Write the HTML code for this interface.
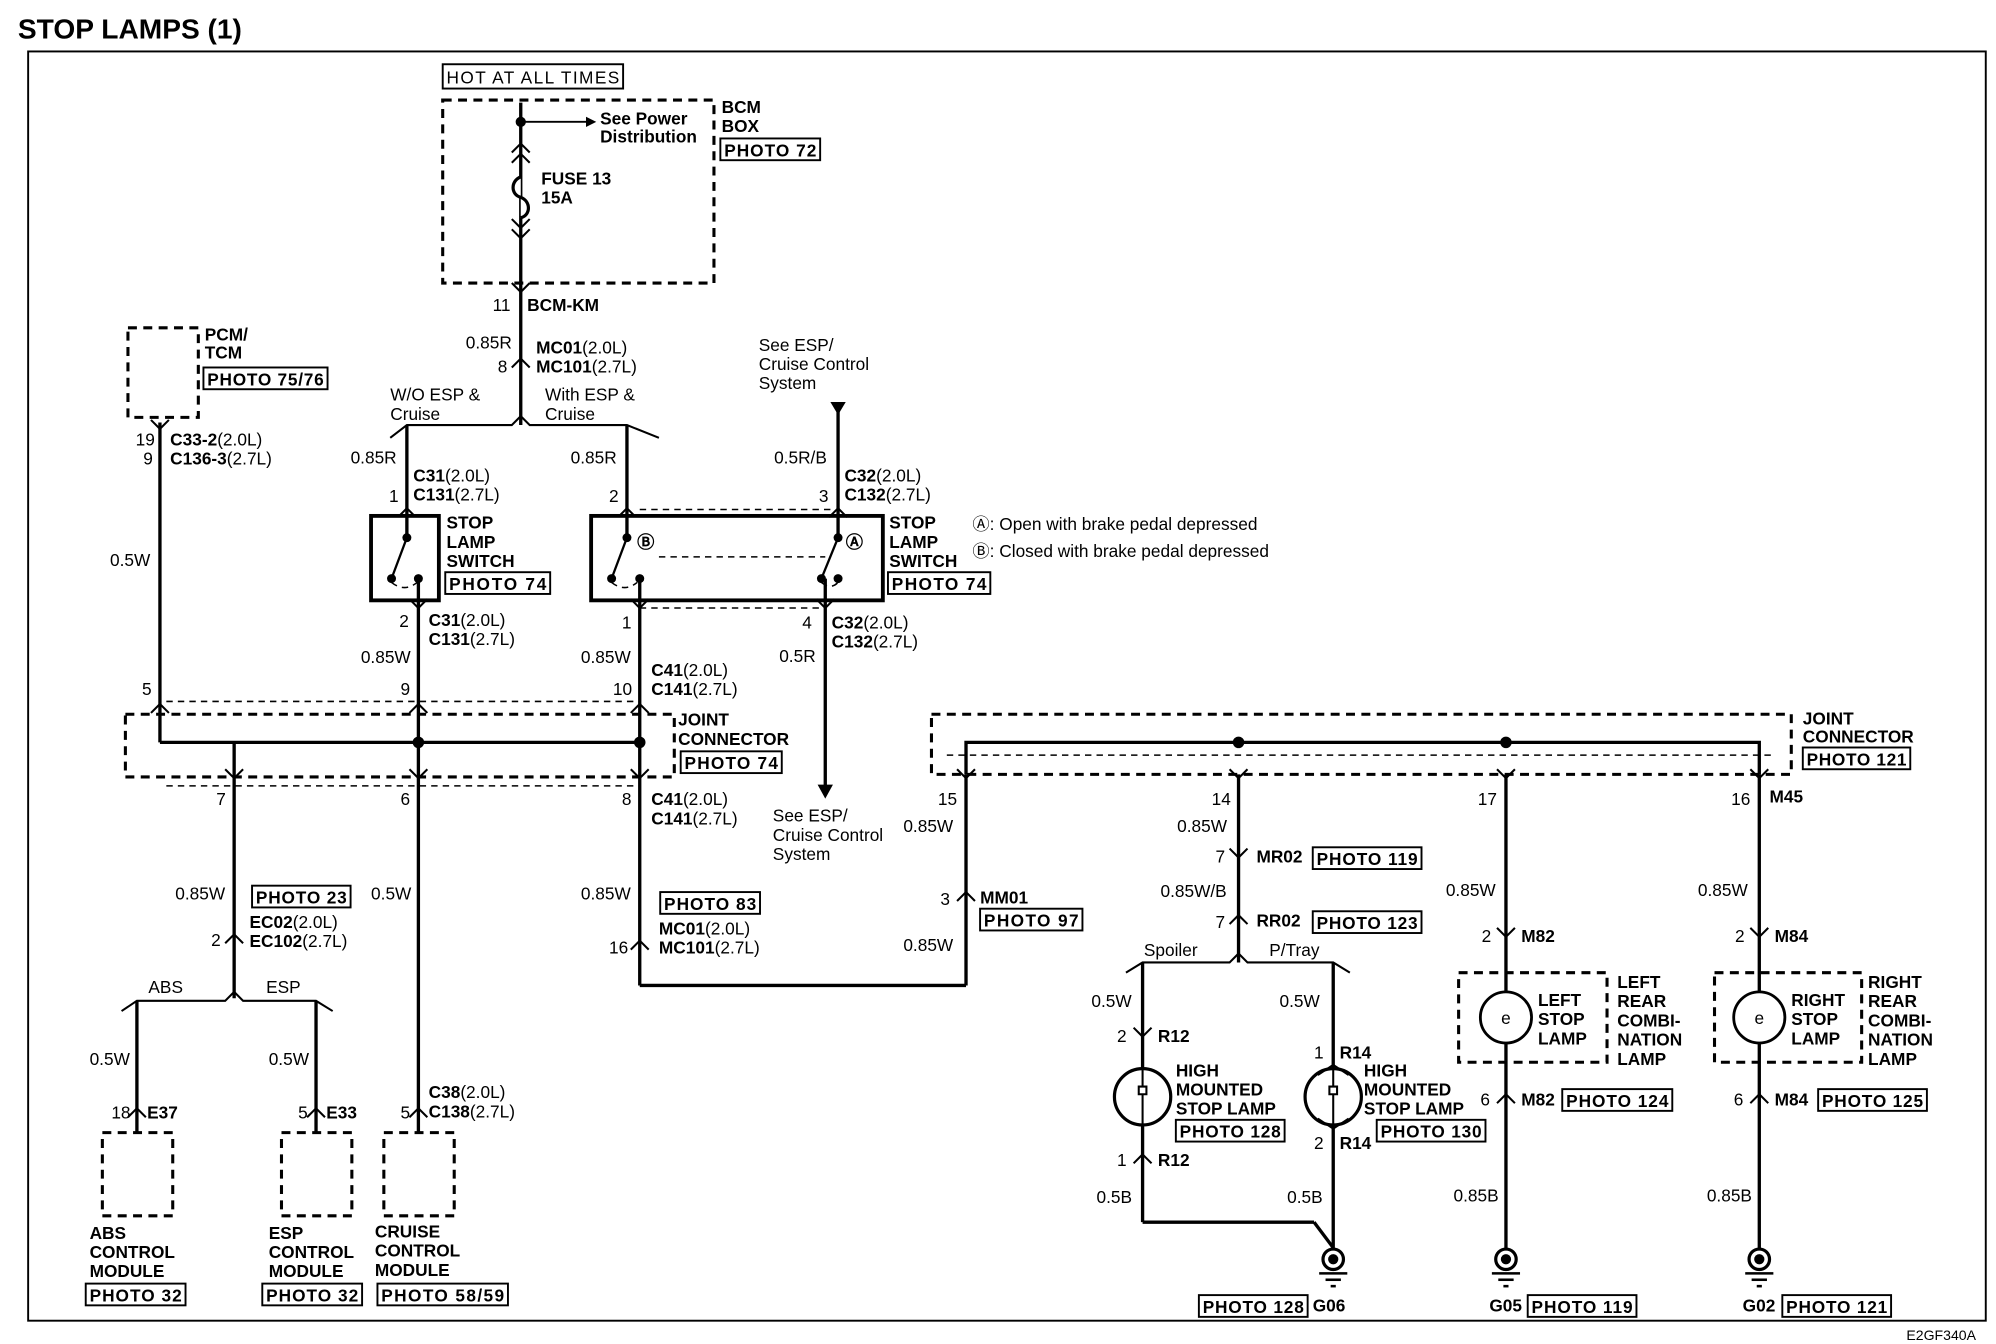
<!DOCTYPE html>
<html><head><meta charset="utf-8"><style>
html,body{margin:0;padding:0;background:#fff}
svg{display:block}
text{font-family:"Liberation Sans",Arial,sans-serif;font-size:13.5px;fill:#000}
.b{font-weight:bold}
.w{stroke:#000;stroke-width:2.6;fill:none}
.t{stroke:#000;stroke-width:1.5;fill:none}
.d{stroke:#000;stroke-width:2.4;fill:none;stroke-dasharray:7,5}
.dt{stroke:#000;stroke-width:1.2;fill:none;stroke-dasharray:5,4}
</style></head><body>
<svg width="1996" height="1344" viewBox="0 0 1560 1050" xmlns="http://www.w3.org/2000/svg">
<defs>
<path id="cu" d="M-7,7 L0,0 L7,7" stroke="#000" stroke-width="1.6" fill="none"/>
<path id="cd" d="M-7,-7 L0,0 L7,-7" stroke="#000" stroke-width="1.6" fill="none"/>
<g id="gnd"><circle r="8" stroke="#000" stroke-width="2.5" fill="#fff"/><circle r="4" fill="#000"/><line x1="-11" y1="11" x2="11" y2="11" stroke="#000" stroke-width="2"/><line x1="-6" y1="16" x2="6" y2="16" stroke="#000" stroke-width="2"/><line x1="-2" y1="21" x2="2" y2="21" stroke="#000" stroke-width="2"/></g>
<g id="bulb"><circle r="22" stroke="#000" stroke-width="2.5" fill="#fff"/><path d="M0,-22 L0,-8 M-3,-8 h6 v6 h-6 z M0,-2 L0,22" stroke="#000" stroke-width="1.6" fill="none"/></g>
</defs>

<text x="14" y="30" class="b" style="font-size:22px">STOP LAMPS (1)</text>
<rect x="22" y="40" width="1530" height="992" class="t"/>
<text x="1490" y="1047" style="font-size:11px">E2GF340A</text>

<!-- BCM -->
<rect x="346" y="50" width="141" height="19" class="t"/>
<text x="349" y="65" textLength="135">HOT AT ALL TIMES</text>
<rect x="346" y="78" width="212" height="143" class="d"/>
<line x1="407" y1="80" x2="407" y2="332" class="w"/>
<circle cx="407" cy="95" r="4"/>
<line x1="407" y1="95" x2="458" y2="95" class="t"/>
<path d="M458,91 L466,95 L458,99 z"/>
<text x="469" y="97" class="b">See Power</text><text x="469" y="111" class="b">Distribution</text>
<use href="#cu" x="407" y="112"/><use href="#cu" x="407" y="120"/>
<path d="M407,138 c-8,3 -8,14 0,16 c8,3 8,14 0,16" stroke="#000" stroke-width="2.5" fill="#fff"/>
<use href="#cd" x="407" y="178"/><use href="#cd" x="407" y="186"/>
<text x="423" y="144" class="b">FUSE 13</text><text x="423" y="159" class="b">15A</text>
<text x="564" y="88" class="b">BCM</text><text x="564" y="103" class="b">BOX</text>
<rect x="563" y="108" width="78" height="17" class="t"/><text x="566" y="122" class="b" textLength="72">PHOTO 72</text>
<use href="#cd" x="407" y="228"/>
<text x="385" y="243">11</text><text x="412" y="243" class="b">BCM-KM</text>
<text x="364" y="272">0.85R</text>
<text x="389" y="291">8</text><use href="#cu" x="407" y="280"/>
<text x="419" y="276" class="b">MC01<tspan font-weight="normal">(2.0L)</tspan></text>
<text x="419" y="291" class="b">MC101<tspan font-weight="normal">(2.7L)</tspan></text>
<path d="M305,342 L318,332 L400,332 L407,325 L414,332 L490,332 L515,342" class="w" style="stroke-width:1.6"/>
<text x="305" y="313">W/O ESP &amp;</text><text x="305" y="328">Cruise</text>
<text x="426" y="313">With ESP &amp;</text><text x="426" y="328">Cruise</text>

<!-- PCM -->
<rect x="100" y="256" width="55" height="70" class="d"/>
<text x="160" y="266" class="b">PCM/</text><text x="160" y="280" class="b">TCM</text>
<rect x="159" y="287" width="97" height="17" class="t"/><text x="162" y="301" class="b" textLength="91">PHOTO 75/76</text>
<use href="#cd" x="125" y="335"/>
<line x1="125" y1="330" x2="125" y2="580" class="w"/>
<text x="106" y="348">19</text><text x="112" y="363">9</text>
<text x="133" y="348" class="b">C33-2<tspan font-weight="normal">(2.0L)</tspan></text>
<text x="133" y="363" class="b">C136-3<tspan font-weight="normal">(2.7L)</tspan></text>
<text x="86" y="442">0.5W</text>

<!-- switch 1 -->
<line x1="318" y1="332" x2="318" y2="403" class="w"/>
<text x="274" y="362">0.85R</text>
<text x="304" y="392">1</text><use href="#cu" x="318" y="397"/>
<text x="323" y="376" class="b">C31<tspan font-weight="normal">(2.0L)</tspan></text>
<text x="323" y="391" class="b">C131<tspan font-weight="normal">(2.7L)</tspan></text>
<rect x="290" y="403" width="53" height="66" fill="#fff" stroke="#000" stroke-width="3"/>
<line x1="318" y1="403" x2="318" y2="418" class="w"/>
<circle cx="318" cy="420" r="3.5"/><circle cx="306" cy="452" r="3.5"/><circle cx="327" cy="452" r="3.5"/>
<line x1="318" y1="420" x2="306" y2="452" class="w" style="stroke-width:1.8"/>
<line x1="327" y1="452" x2="327" y2="469" class="w"/>
<path d="M306,455 q10,8 20,0" class="dt"/>
<text x="349" y="413" class="b">STOP</text><text x="349" y="428" class="b">LAMP</text><text x="349" y="443" class="b">SWITCH</text>
<rect x="348" y="447" width="82" height="17" class="t"/><text x="351" y="461" class="b" textLength="76">PHOTO 74</text>
<text x="312" y="490">2</text><use href="#cd" x="327" y="475"/>
<text x="335" y="489" class="b">C31<tspan font-weight="normal">(2.0L)</tspan></text>
<text x="335" y="504" class="b">C131<tspan font-weight="normal">(2.7L)</tspan></text>
<text x="282" y="518">0.85W</text>
<text x="313" y="543">9</text><use href="#cu" x="327" y="550"/>
<line x1="327" y1="469" x2="327" y2="580" class="w"/>

<!-- switch 2 -->
<line x1="490" y1="332" x2="490" y2="403" class="w"/>
<text x="446" y="362">0.85R</text>
<text x="476" y="392">2</text><use href="#cu" x="490" y="397"/>
<rect x="462" y="403" width="228" height="66" fill="#fff" stroke="#000" stroke-width="3"/>
<line x1="490" y1="403" x2="490" y2="418" class="w"/>
<circle cx="490" cy="420" r="3.5"/><circle cx="478" cy="452" r="3.5"/><circle cx="500" cy="452" r="3.5"/>
<line x1="490" y1="420" x2="478" y2="452" class="w" style="stroke-width:1.8"/>
<line x1="500" y1="452" x2="500" y2="469" class="w"/>
<path d="M478,455 q10,8 20,0" class="dt"/>
<text x="498" y="428" class="b">Ⓑ</text>
<line x1="500" y1="398" x2="650" y2="398" class="dt"/>
<line x1="515" y1="435" x2="645" y2="435" class="dt"/>
<line x1="500" y1="475" x2="640" y2="475" class="dt"/>
<line x1="655" y1="318" x2="655" y2="418" class="w"/>
<path d="M649,314 L661,314 L655,324 z"/>
<text x="593" y="274">See ESP/</text><text x="593" y="289">Cruise Control</text><text x="593" y="304">System</text>
<text x="605" y="362">0.5R/B</text>
<text x="640" y="392">3</text><use href="#cu" x="655" y="397"/>
<text x="660" y="376" class="b">C32<tspan font-weight="normal">(2.0L)</tspan></text>
<text x="660" y="391" class="b">C132<tspan font-weight="normal">(2.7L)</tspan></text>
<circle cx="655" cy="420" r="3.5"/><circle cx="642" cy="452" r="3.5"/><circle cx="655" cy="452" r="3.5"/>
<line x1="655" y1="420" x2="642" y2="452" class="w" style="stroke-width:1.8"/>
<path d="M642,455 q7,6 13,0" class="dt"/>
<text x="661" y="428" class="b">Ⓐ</text>
<line x1="645" y1="452" x2="645" y2="615" class="w"/>
<path d="M639,613 L651,613 L645,624 z"/>
<text x="695" y="413" class="b">STOP</text><text x="695" y="428" class="b">LAMP</text><text x="695" y="443" class="b">SWITCH</text>
<rect x="694" y="447" width="80" height="17" class="t"/><text x="697" y="461" class="b" textLength="74">PHOTO 74</text>
<text x="760" y="414">Ⓐ: Open with brake pedal depressed</text>
<text x="760" y="435">Ⓑ: Closed with brake pedal depressed</text>
<text x="486" y="491">1</text><use href="#cd" x="500" y="475"/>
<text x="627" y="491">4</text><use href="#cd" x="645" y="475"/>
<text x="650" y="491" class="b">C32<tspan font-weight="normal">(2.0L)</tspan></text>
<text x="650" y="506" class="b">C132<tspan font-weight="normal">(2.7L)</tspan></text>
<text x="609" y="517">0.5R</text>
<text x="454" y="518">0.85W</text>
<text x="509" y="528" class="b">C41<tspan font-weight="normal">(2.0L)</tspan></text>
<text x="509" y="543" class="b">C141<tspan font-weight="normal">(2.7L)</tspan></text>
<text x="479" y="543">10</text><use href="#cu" x="500" y="550"/>
<text x="604" y="642">See ESP/</text><text x="604" y="657">Cruise Control</text><text x="604" y="672">System</text>
<line x1="500" y1="470" x2="500" y2="770" class="w"/>
<line x1="500" y1="770" x2="755" y2="770" class="w"/>

<!-- joint connector 1 -->
<rect x="98" y="558" width="429" height="49" class="d"/>
<line x1="130" y1="548" x2="500" y2="548" class="dt"/>
<line x1="130" y1="614" x2="500" y2="614" class="dt"/>
<line x1="125" y1="580" x2="500" y2="580" class="w"/>
<circle cx="327" cy="580" r="4.5"/><circle cx="500" cy="580" r="4.5"/>
<text x="111" y="543">5</text><use href="#cu" x="125" y="550"/>
<text x="530" y="567" class="b">JOINT</text><text x="530" y="582" class="b">CONNECTOR</text>
<rect x="532" y="587" width="79" height="17" class="t"/><text x="535" y="601" class="b" textLength="73">PHOTO 74</text>
<line x1="183" y1="580" x2="183" y2="780" class="w"/>
<use href="#cd" x="183" y="608"/><text x="169" y="629">7</text>
<use href="#cd" x="327" y="608"/><text x="313" y="629">6</text>
<use href="#cd" x="500" y="608"/><text x="486" y="629">8</text>
<text x="509" y="629" class="b">C41<tspan font-weight="normal">(2.0L)</tspan></text>
<text x="509" y="644" class="b">C141<tspan font-weight="normal">(2.7L)</tspan></text>
<text x="454" y="703">0.85W</text>
<rect x="516" y="697" width="78" height="17" class="t"/><text x="519" y="711" class="b" textLength="72">PHOTO 83</text>
<text x="515" y="730" class="b">MC01<tspan font-weight="normal">(2.0L)</tspan></text>
<text x="515" y="745" class="b">MC101<tspan font-weight="normal">(2.7L)</tspan></text>
<text x="476" y="745">16</text><use href="#cu" x="500" y="735"/>

<!-- ABS/ESP -->
<text x="137" y="703">0.85W</text>
<rect x="197" y="692" width="77" height="17" class="t"/><text x="200" y="706" class="b" textLength="71">PHOTO 23</text>
<text x="165" y="739">2</text><use href="#cu" x="183" y="730"/>
<text x="195" y="725" class="b">EC02<tspan font-weight="normal">(2.0L)</tspan></text>
<text x="195" y="740" class="b">EC102<tspan font-weight="normal">(2.7L)</tspan></text>
<path d="M95,790 L107,782 L176,782 L183,775 L190,782 L247,782 L260,790" class="t" style="stroke-width:1.6"/>
<text x="116" y="776">ABS</text><text x="208" y="776">ESP</text>
<line x1="107" y1="782" x2="107" y2="885" class="w"/>
<line x1="247" y1="782" x2="247" y2="885" class="w"/>
<text x="70" y="832">0.5W</text><text x="210" y="832">0.5W</text>
<text x="87" y="874">18</text><text x="115" y="874" class="b">E37</text><use href="#cu" x="107" y="866"/>
<text x="233" y="874">5</text><text x="255" y="874" class="b">E33</text><use href="#cu" x="247" y="866"/>
<rect x="80" y="885" width="55" height="65" class="d"/>
<rect x="220" y="885" width="55" height="65" class="d"/>
<text x="70" y="968" class="b">ABS</text><text x="70" y="983" class="b">CONTROL</text><text x="70" y="998" class="b">MODULE</text>
<rect x="67" y="1003" width="78" height="17" class="t"/><text x="70" y="1017" class="b" textLength="72">PHOTO 32</text>
<text x="210" y="968" class="b">ESP</text><text x="210" y="983" class="b">CONTROL</text><text x="210" y="998" class="b">MODULE</text>
<rect x="205" y="1003" width="78" height="17" class="t"/><text x="208" y="1017" class="b" textLength="72">PHOTO 32</text>
<!-- cruise -->
<line x1="327" y1="580" x2="327" y2="885" class="w"/>
<text x="290" y="703">0.5W</text>
<text x="313" y="874">5</text><use href="#cu" x="327" y="866"/>
<text x="335" y="858" class="b">C38<tspan font-weight="normal">(2.0L)</tspan></text>
<text x="335" y="873" class="b">C138<tspan font-weight="normal">(2.7L)</tspan></text>
<rect x="300" y="885" width="55" height="65" class="d"/>
<text x="293" y="967" class="b">CRUISE</text><text x="293" y="982" class="b">CONTROL</text><text x="293" y="997" class="b">MODULE</text>
<rect x="295" y="1003" width="102" height="17" class="t"/><text x="298" y="1017" class="b" textLength="96">PHOTO 58/59</text>

<!-- joint connector 2 -->
<rect x="728" y="558" width="672" height="47" class="d"/>
<line x1="740" y1="590" x2="1385" y2="590" class="dt"/>
<path d="M755,605 L755,580 L1375,580 L1375,605" class="w"/>
<circle cx="968" cy="580" r="4.5"/><circle cx="1177" cy="580" r="4.5"/>
<text x="1409" y="566" class="b">JOINT</text><text x="1409" y="580" class="b">CONNECTOR</text>
<rect x="1409" y="584" width="84" height="17" class="t"/><text x="1412" y="598" class="b" textLength="78">PHOTO 121</text>
<use href="#cd" x="755" y="608"/><text x="733" y="629">15</text>
<use href="#cd" x="968" y="608"/><text x="947" y="629">14</text>
<use href="#cd" x="1177" y="608"/><text x="1155" y="629">17</text>
<use href="#cd" x="1375" y="608"/><text x="1353" y="629">16</text><text x="1383" y="627" class="b">M45</text>
<line x1="755" y1="605" x2="755" y2="770" class="w"/>
<text x="706" y="650">0.85W</text>
<text x="735" y="707">3</text><use href="#cu" x="755" y="697"/><text x="766" y="706" class="b">MM01</text>
<rect x="766" y="710" width="80" height="17" class="t"/><text x="769" y="724" class="b" textLength="74">PHOTO 97</text>
<text x="706" y="743">0.85W</text>

<!-- HMSL -->
<line x1="968" y1="605" x2="968" y2="752" class="w"/>
<text x="920" y="650">0.85W</text>
<text x="950" y="674">7</text><use href="#cd" x="968" y="670"/><text x="982" y="674" class="b">MR02</text>
<rect x="1026" y="662" width="85" height="17" class="t"/><text x="1029" y="676" class="b" textLength="79">PHOTO 119</text>
<text x="907" y="701">0.85W/B</text>
<text x="950" y="725">7</text><use href="#cu" x="968" y="715"/><text x="982" y="724" class="b">RR02</text>
<rect x="1026" y="712" width="85" height="17" class="t"/><text x="1029" y="726" class="b" textLength="79">PHOTO 123</text>
<path d="M880,760 L893,752 L961,752 L968,745 L975,752 L1042,752 L1055,760" class="t" style="stroke-width:1.6"/>
<text x="894" y="747">Spoiler</text><text x="992" y="747">P/Tray</text>
<line x1="893" y1="752" x2="893" y2="955" class="w"/>
<line x1="893" y1="955" x2="1027" y2="955" class="w"/>
<line x1="1027" y1="955" x2="1042" y2="975" class="w"/>
<line x1="1042" y1="752" x2="1042" y2="980" class="w"/>
<text x="853" y="787">0.5W</text><text x="1000" y="787">0.5W</text>
<text x="873" y="814">2</text><use href="#cd" x="893" y="810"/><text x="905" y="814" class="b">R12</text>
<use href="#bulb" x="893" y="857"/>
<text x="919" y="841" class="b">HIGH</text><text x="919" y="856" class="b">MOUNTED</text><text x="919" y="871" class="b">STOP LAMP</text>
<rect x="919" y="875" width="85" height="17" class="t"/><text x="922" y="889" class="b" textLength="79">PHOTO 128</text>
<text x="873" y="911">1</text><use href="#cu" x="893" y="902"/><text x="905" y="911" class="b">R12</text>
<text x="857" y="940">0.5B</text><text x="1006" y="940">0.5B</text>
<text x="1027" y="827">1</text><text x="1047" y="827" class="b">R14</text>
<use href="#bulb" x="1042" y="857"/>
<path d="M1030,840 L1042,832 L1054,840 M1030,874 L1042,882 L1054,874" class="t"/>
<text x="1066" y="841" class="b">HIGH</text><text x="1066" y="856" class="b">MOUNTED</text><text x="1066" y="871" class="b">STOP LAMP</text>
<rect x="1076" y="875" width="85" height="17" class="t"/><text x="1079" y="889" class="b" textLength="79">PHOTO 130</text>
<text x="1027" y="898">2</text><text x="1047" y="898" class="b">R14</text>
<use href="#gnd" x="1042" y="984"/>
<rect x="937" y="1012" width="85" height="17" class="t"/><text x="940" y="1026" class="b" textLength="79">PHOTO 128</text>
<text x="1026" y="1025" class="b">G06</text>

<!-- left stop lamp -->
<line x1="1177" y1="605" x2="1177" y2="976" class="w"/>
<text x="1130" y="700">0.85W</text>
<text x="1158" y="736">2</text><use href="#cd" x="1177" y="732"/><text x="1189" y="736" class="b">M82</text>
<rect x="1140" y="760" width="116" height="70" class="d"/>
<circle cx="1177" cy="795" r="20" stroke="#000" stroke-width="2.2" fill="#fff"/>
<text x="1177" y="800" text-anchor="middle">e</text>
<text x="1202" y="786" class="b">LEFT</text><text x="1202" y="801" class="b">STOP</text><text x="1202" y="816" class="b">LAMP</text>
<text x="1264" y="772" class="b">LEFT</text><text x="1264" y="787" class="b">REAR</text><text x="1264" y="802" class="b">COMBI-</text><text x="1264" y="817" class="b">NATION</text><text x="1264" y="832" class="b">LAMP</text>
<text x="1157" y="864">6</text><use href="#cu" x="1177" y="855"/><text x="1189" y="864" class="b">M82</text>
<rect x="1221" y="851" width="86" height="17" class="t"/><text x="1224" y="865" class="b" textLength="80">PHOTO 124</text>
<text x="1136" y="939">0.85B</text>
<use href="#gnd" x="1177" y="984"/>
<text x="1164" y="1025" class="b">G05</text>
<rect x="1194" y="1012" width="85" height="17" class="t"/><text x="1197" y="1026" class="b" textLength="79">PHOTO 119</text>

<!-- right stop lamp -->
<line x1="1375" y1="605" x2="1375" y2="976" class="w"/>
<text x="1327" y="700">0.85W</text>
<text x="1356" y="736">2</text><use href="#cd" x="1375" y="732"/><text x="1387" y="736" class="b">M84</text>
<rect x="1340" y="760" width="115" height="70" class="d"/>
<circle cx="1375" cy="795" r="20" stroke="#000" stroke-width="2.2" fill="#fff"/>
<text x="1375" y="800" text-anchor="middle">e</text>
<text x="1400" y="786" class="b">RIGHT</text><text x="1400" y="801" class="b">STOP</text><text x="1400" y="816" class="b">LAMP</text>
<text x="1460" y="772" class="b">RIGHT</text><text x="1460" y="787" class="b">REAR</text><text x="1460" y="802" class="b">COMBI-</text><text x="1460" y="817" class="b">NATION</text><text x="1460" y="832" class="b">LAMP</text>
<text x="1355" y="864">6</text><use href="#cu" x="1375" y="855"/><text x="1387" y="864" class="b">M84</text>
<rect x="1421" y="851" width="85" height="17" class="t"/><text x="1424" y="865" class="b" textLength="79">PHOTO 125</text>
<text x="1334" y="939">0.85B</text>
<use href="#gnd" x="1375" y="984"/>
<text x="1362" y="1025" class="b">G02</text>
<rect x="1393" y="1012" width="85" height="17" class="t"/><text x="1396" y="1026" class="b" textLength="79">PHOTO 121</text>
</svg>
</body></html>
